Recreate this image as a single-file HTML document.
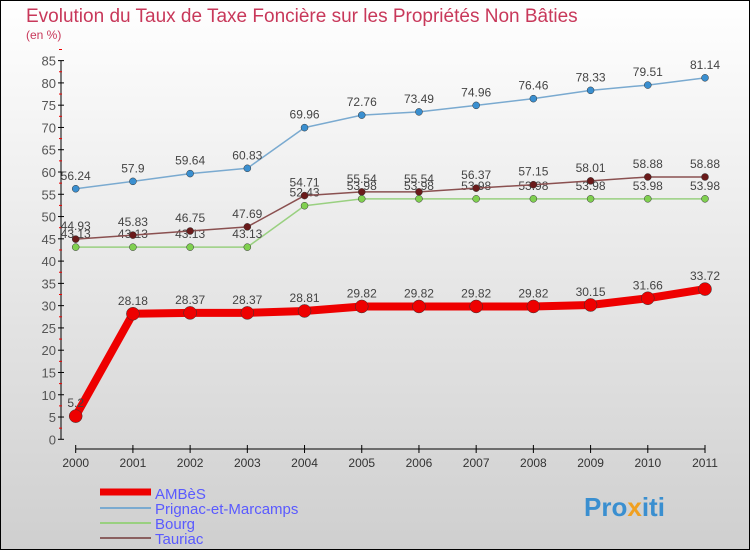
<!DOCTYPE html>
<html><head><meta charset="utf-8"><style>
body{margin:0;width:750px;height:550px;overflow:hidden;font-family:"Liberation Sans",sans-serif}
</style></head><body>
<svg width="750" height="550" xmlns="http://www.w3.org/2000/svg">
<defs><linearGradient id="bg" x1="0" y1="0" x2="0" y2="1"><stop offset="0" stop-color="#ffffff"/><stop offset="1" stop-color="#cfcfcf"/></linearGradient></defs>
<rect x="0.5" y="0.5" width="749" height="549" fill="url(#bg)" stroke="#000"/>
<text x="26" y="22" font-size="19" fill="#c8385a">Evolution du Taux de Taxe Foncière sur les Propriétés Non Bâties</text>
<text x="26" y="39" font-size="12" fill="#c8385a">(en %)</text>
<g id="axes"></g><g id="series"></g>
<g>
<line x1="100" y1="492" x2="151" y2="492" stroke="#e00" stroke-width="7"/>
<text x="155" y="499" font-size="15" fill="#5a5aff">AMBèS</text>
<line x1="100" y1="508" x2="151" y2="508" stroke="#7aaad0" stroke-width="2"/>
<text x="155" y="514" font-size="15" fill="#5a5aff">Prignac-et-Marcamps</text>
<line x1="100" y1="523" x2="151" y2="523" stroke="#99d080" stroke-width="2"/>
<text x="155" y="529" font-size="15" fill="#5a5aff">Bourg</text>
<line x1="100" y1="538" x2="151" y2="538" stroke="#8a6060" stroke-width="2"/>
<text x="155" y="544" font-size="15" fill="#5a5aff">Tauriac</text>
</g>
<text x="584" y="516" font-size="26" font-weight="bold" fill="#3a8fd0">Pro<tspan fill="#f0a020">x</tspan>iti</text>
</svg>
<script>
const years=[2000,2001,2002,2003,2004,2005,2006,2007,2008,2009,2010,2011];
const yTicks=[0,5,10,15,20,25,30,35,40,45,50,55,60,65,70,75,80,85];
const ambes=[5.2,28.18,28.37,28.37,28.81,29.82,29.82,29.82,29.82,30.15,31.66,33.72];
const prignac=[56.24,57.9,59.64,60.83,69.96,72.76,73.49,74.96,76.46,78.33,79.51,81.14];
const bourg=[43.13,43.13,43.13,43.13,52.43,53.98,53.98,53.98,53.98,53.98,53.98,53.98];
const tauriac=[44.93,45.83,46.75,47.69,54.71,55.54,55.54,56.37,57.15,58.01,58.88,58.88];
const NS="http://www.w3.org/2000/svg";
const X=i=>75.7+i*(705-75.7)/11;
const Y=v=>439.3-v*4.455;
function mk(tag,attrs,parent){const e=document.createElementNS(NS,tag);for(const k in attrs)e.setAttribute(k,attrs[k]);parent.appendChild(e);return e;}
const ax=document.getElementById('axes');
let a=mk('line',{x1:61,y1:Y(85),x2:61,y2:Y(0),stroke:'#000'},ax);


yTicks.forEach(v=>{
 mk('line',{x1:58,y1:Y(v),x2:64,y2:Y(v),stroke:'#000'},ax);
 mk('line',{x1:59,y1:Y(v+2.5),x2:62,y2:Y(v+2.5),stroke:'#e00'},ax);
 const t=mk('text',{x:56,y:Y(v)+5,'font-size':13,'text-anchor':'end',fill:'#555'},ax);t.textContent=v;
 
 
});
let b=mk('line',{x1:X(0),y1:449,x2:X(11),y2:449,stroke:'#000'},ax);


years.forEach((yr,i)=>{
 mk('line',{x1:X(i),y1:445,x2:X(i),y2:453,stroke:'#000'},ax);
 const t=mk('text',{x:X(i),y:467,'font-size':12,'text-anchor':'middle',fill:'#333'},ax);t.textContent=yr;
 
 
});
const sg=document.getElementById('series');
function draw(data,name,color,dot,w,r){
 const g=mk('g',{},sg);
 
 
 const pl=mk('polyline',{points:data.map((v,i)=>X(i)+','+Y(v)).join(' '),fill:'none',stroke:color,'stroke-width':w,'stroke-linejoin':'round'},g);
 
 
 data.forEach((v,i)=>{
  const c=mk('circle',{cx:X(i),cy:Y(v),r:r,fill:dot,stroke:'#333','stroke-width':0.5},g);
  
  
  const t=mk('text',{x:X(i),y:Y(v)-9,'font-size':12,'text-anchor':'middle',fill:'#444'},g);t.textContent=v;
  
  
 });
}
draw(bourg,'bourg','#99d080','#80d050',1.5,3.5);
draw(tauriac,'tauriac','#8a5050','#6a1a1a',1.5,3.5);
draw(prignac,'prignac','#7aaad0','#3a8fd0',1.5,3.5);
draw(ambes,'ambes','#e00','#e00',8,6.5);
</script>
</body></html>
